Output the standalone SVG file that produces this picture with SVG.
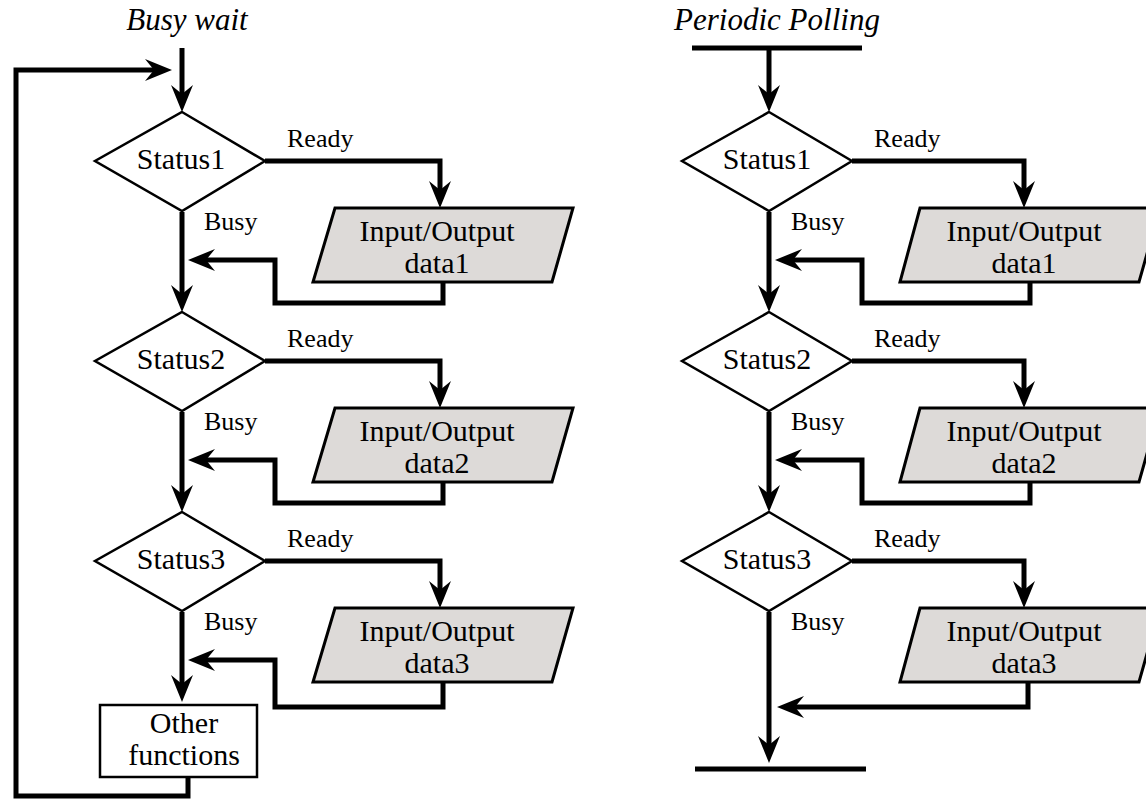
<svg xmlns="http://www.w3.org/2000/svg" width="1146" height="799" viewBox="0 0 1146 799">
  <style>
    .flow { fill: none; stroke: #000; stroke-width: 5; stroke-linejoin: miter; }
    .arrow { marker-end: url(#head); }
    .dec { fill: #fff; stroke: #000; stroke-width: 2.5; }
    .io { fill: #dddad8; stroke: #000; stroke-width: 3; }
    .box { fill: #fff; stroke: #000; stroke-width: 2.5; }
    .t { font-family: "Liberation Serif", "Times New Roman", serif; font-size: 30px; fill: #000; text-anchor: middle; }
    .lbl { font-family: "Liberation Serif", "Times New Roman", serif; font-size: 26px; fill: #000; }
    .title { font-family: "Liberation Serif", "Times New Roman", serif; font-size: 31px; font-style: italic; fill: #000; text-anchor: middle; }
  </style>
  <defs>
    <marker id="head" viewBox="-28 -12 30 24" markerWidth="30" markerHeight="24" refX="-15" refY="0" orient="auto" markerUnits="userSpaceOnUse">
      <path d="M0,0 L-27,-11 L-18,0 L-27,11 Z" fill="#000"/>
    </marker>
  </defs>

  <rect width="1146" height="799" fill="#fff"/>

  <!-- titles -->
  <text class="title" x="187" y="30">Busy wait</text>
  <text class="title" x="777" y="30">Periodic Polling</text>

  <!-- connectors -->
  <g id="connectors">
    <!-- busy wait column -->
    <path class="flow arrow" d="M182,48 V97"/>
    <path class="flow arrow" d="M188,777 V796 H16 V70 H157"/>
    <path class="flow arrow" d="M182,212 V297"/>
    <path class="flow arrow" d="M182,412 V497"/>
    <path class="flow arrow" d="M182,612 V687"/>
    <path class="flow arrow" d="M265,161 H440 V193"/>
    <path class="flow arrow" d="M265,361 H440 V393"/>
    <path class="flow arrow" d="M265,561 H440 V593"/>
    <path class="flow arrow" d="M443,282 V303 H275 V260 H203"/>
    <path class="flow arrow" d="M443,482 V503 H275 V460 H203"/>
    <path class="flow arrow" d="M443,682 V707 H275 V660 H203"/>

    <!-- periodic polling column -->
    <path class="flow" d="M692,48 H862"/>
    <path class="flow arrow" d="M769,48 V97"/>
    <path class="flow arrow" d="M769,212 V297"/>
    <path class="flow arrow" d="M769,412 V497"/>
    <path class="flow arrow" d="M769,612 V748"/>
    <path class="flow" d="M695,769 H866"/>
    <path class="flow arrow" d="M852,161 H1024 V193"/>
    <path class="flow arrow" d="M852,361 H1024 V393"/>
    <path class="flow arrow" d="M852,561 H1024 V593"/>
    <path class="flow arrow" d="M1030,282 V303 H862 V260 H790"/>
    <path class="flow arrow" d="M1030,482 V503 H862 V460 H790"/>
    <path class="flow arrow" d="M1028,682 V707 H792"/>
  </g>

  <!-- edge labels -->
  <g id="labels">
    <text class="lbl" x="287" y="147">Ready</text>
    <text class="lbl" x="287" y="347">Ready</text>
    <text class="lbl" x="287" y="547">Ready</text>
    <text class="lbl" x="204" y="230">Busy</text>
    <text class="lbl" x="204" y="430">Busy</text>
    <text class="lbl" x="204" y="630">Busy</text>
    <text class="lbl" x="874" y="147">Ready</text>
    <text class="lbl" x="874" y="347">Ready</text>
    <text class="lbl" x="874" y="547">Ready</text>
    <text class="lbl" x="791" y="230">Busy</text>
    <text class="lbl" x="791" y="430">Busy</text>
    <text class="lbl" x="791" y="630">Busy</text>
  </g>

  <!-- busy wait nodes -->
  <g id="bw-status1">
    <polygon class="dec" points="182,112 265,161 182,211 95,161"/>
    <text class="t" x="181" y="169">Status1</text>
  </g>
  <g id="bw-io1">
    <polygon class="io" points="335,208 573,208 552,282 313,282"/>
    <text class="t" x="437" y="241">Input/Output</text>
    <text class="t" x="437" y="273">data1</text>
  </g>
  <g id="bw-status2">
    <polygon class="dec" points="182,312 265,361 182,411 95,361"/>
    <text class="t" x="181" y="369">Status2</text>
  </g>
  <g id="bw-io2">
    <polygon class="io" points="335,408 573,408 552,482 313,482"/>
    <text class="t" x="437" y="441">Input/Output</text>
    <text class="t" x="437" y="473">data2</text>
  </g>
  <g id="bw-status3">
    <polygon class="dec" points="182,512 265,561 182,611 95,561"/>
    <text class="t" x="181" y="569">Status3</text>
  </g>
  <g id="bw-io3">
    <polygon class="io" points="335,608 573,608 552,682 313,682"/>
    <text class="t" x="437" y="641">Input/Output</text>
    <text class="t" x="437" y="673">data3</text>
  </g>
  <g id="bw-other">
    <rect class="box" x="100" y="705" width="157" height="72"/>
    <text class="t" x="184" y="733">Other</text>
    <text class="t" x="184" y="765">functions</text>
  </g>

  <!-- periodic polling nodes -->
  <g id="pp-status1">
    <polygon class="dec" points="769,112 852,161 769,211 682,161"/>
    <text class="t" x="767" y="169">Status1</text>
  </g>
  <g id="pp-io1">
    <polygon class="io" points="920,208 1160,208 1139,282 900,282"/>
    <text class="t" x="1024" y="241">Input/Output</text>
    <text class="t" x="1024" y="273">data1</text>
  </g>
  <g id="pp-status2">
    <polygon class="dec" points="769,312 852,361 769,411 682,361"/>
    <text class="t" x="767" y="369">Status2</text>
  </g>
  <g id="pp-io2">
    <polygon class="io" points="920,408 1160,408 1139,482 900,482"/>
    <text class="t" x="1024" y="441">Input/Output</text>
    <text class="t" x="1024" y="473">data2</text>
  </g>
  <g id="pp-status3">
    <polygon class="dec" points="769,512 852,561 769,611 682,561"/>
    <text class="t" x="767" y="569">Status3</text>
  </g>
  <g id="pp-io3">
    <polygon class="io" points="920,608 1160,608 1139,682 900,682"/>
    <text class="t" x="1024" y="641">Input/Output</text>
    <text class="t" x="1024" y="673">data3</text>
  </g>
</svg>
